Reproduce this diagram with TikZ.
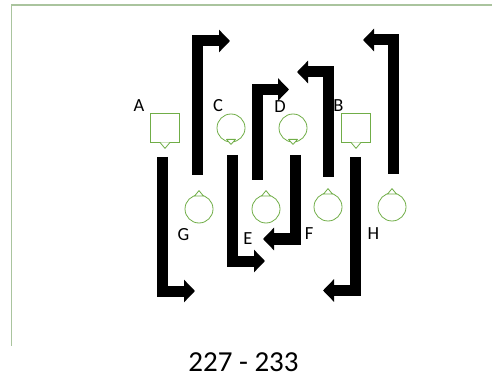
\documentclass[tikz,border=0pt]{standalone}
\usepackage{fontspec}
\setmainfont{Carlito}
\usetikzlibrary{arrows.meta}
\definecolor{frame}{RGB}{170,196,158}
\definecolor{sgreen}{RGB}{112,173,71}
\tikzset{
  bigarrow/.style={line width=11pt, miter limit=10, line join=miter,
    -{Triangle[width=22pt 0, length=11pt 0]}},
  sq/.style={draw=sgreen, line width=0.8pt, minimum size=29pt, inner sep=0pt, fill=white},
  circ/.style={draw=sgreen, line width=0.8pt, circle, minimum size=28pt, inner sep=0pt},
  lab/.style={font=\fontsize{18.5}{18.5}\selectfont, inner sep=0pt},
  notch/.style={draw=sgreen, line width=0.8pt, fill=white, line join=round},
}
\begin{document}
\begin{tikzpicture}[x=1pt,y=-1pt]
\useasboundingbox (0,0) rectangle (492,379);
% frame
\draw[frame, line width=1.6pt] (11,5) -- (492,5);
\draw[frame, line width=1pt] (11,5) -- (11,346);
% arrows
\coordinate (a1s) at (197.5,175); \coordinate (a1e) at (230,41);
\coordinate (a2s) at (393.5,174); \coordinate (a2e) at (363,40);
\coordinate (a3s) at (257,180);   \coordinate (a3e) at (289,89.5);
\coordinate (a4s) at (328.5,177); \coordinate (a4e) at (297,72);
\coordinate (a5s) at (162.5,157); \coordinate (a5e) at (195,291);
\coordinate (a6s) at (232.5,155); \coordinate (a6e) at (265,261);
\coordinate (a7s) at (295.5,155); \coordinate (a7e) at (263,239);
\coordinate (a8s) at (355,157);   \coordinate (a8e) at (323,290.5);
\foreach \i in {1,...,8} {\draw[bigarrow] (a\i s) |- (a\i e);}
% shapes
\node[sq] (A) at (165,127.5) {};
\node[sq] (B) at (356,127.5) {};
\node[circ] (C) at (231,128) {};
\node[circ] (D) at (293,128) {};
\node[circ] (G) at (199,209) {};
\node[circ] (E) at (266,209) {};
\node[circ] (F) at (328,207) {};
\node[circ] (H) at (392,207) {};
% notches
\foreach \n in {A,B} {
  \draw[notch] ([xshift=-5pt]\n.south) -- ([yshift=-6pt]\n.south) -- ([xshift=5pt]\n.south);
}
\foreach \n in {C,D} {
  \draw[notch] ([xshift=-4.5pt,yshift=3pt]\n.south) -- ([yshift=-2pt]\n.south) -- ([xshift=4.5pt,yshift=3pt]\n.south) -- cycle;
}
\foreach \n in {G,E,F,H} {
  \draw[notch] ([xshift=-4.5pt,yshift=-1.5pt]\n.north) -- ([yshift=4pt]\n.north) -- ([xshift=4.5pt,yshift=-1.5pt]\n.north) -- cycle;
}
% labels
\node[lab] (lA) at (139,106) {A};
\node[lab] (lB) at (338.5,106) {B};
\node[lab] (lC) at (218,106) {C};
\node[lab] (lD) at (280,106.5) {D};
\node[lab] (lG) at (183.5,235) {G};
\node[lab] (lE) at (248,238.5) {E};
\node[lab] (lF) at (309,234) {F};
\node[lab] (lH) at (373.5,234) {H};
\node[font=\fontsize{29}{29}\selectfont, inner sep=0pt] (t) at (243.5,362) {227 - 233};
\end{tikzpicture}
\end{document}
